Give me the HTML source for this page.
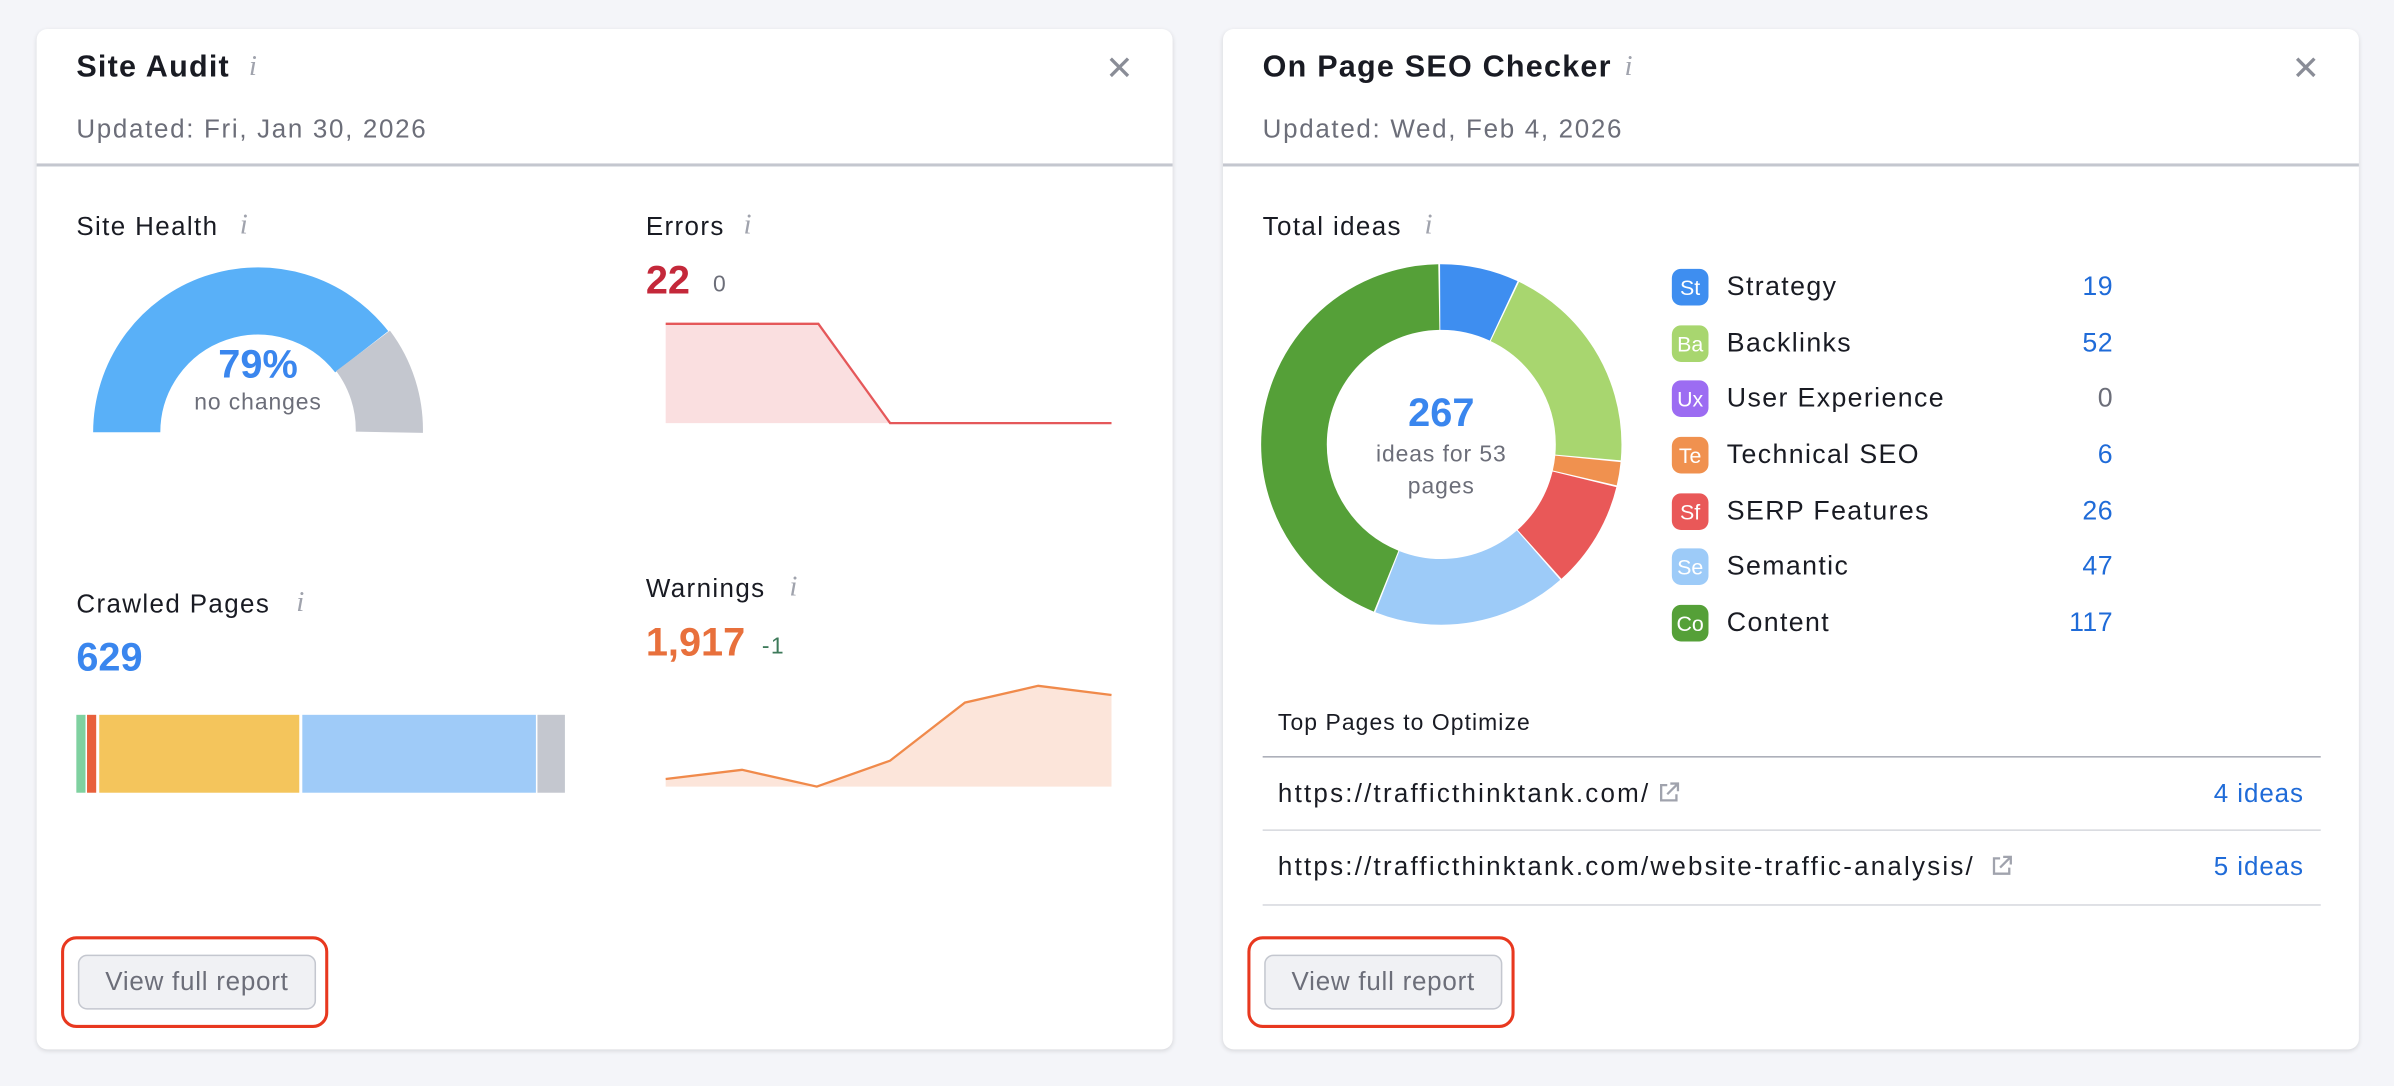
<!DOCTYPE html>
<html><head><meta charset="utf-8"><style>
html,body{margin:0;padding:0;width:2394px;height:1086px;overflow:hidden;background:#f4f5f9;font-family:"Liberation Sans",Arial,sans-serif;}
#w{position:absolute;left:0;top:0;width:1568px;height:711px;transform:scale(1.5268,1.5274);transform-origin:0 0;letter-spacing:0.9px;}
.card{position:absolute;top:19px;width:744px;height:668px;background:#fff;border-radius:7px;box-shadow:0 1px 3px rgba(0,0,0,.12);}
.t{position:absolute;white-space:nowrap;}
.title{font-size:20px;font-weight:bold;color:#191b23;letter-spacing:0.8px;}
.info{font-family:"Liberation Serif",serif;font-style:italic;color:#a0a3ad;font-size:19px;}
.upd{font-size:17px;color:#6c6e79;letter-spacing:1.1px;}
.sep{position:absolute;left:0;right:0;top:88px;height:1.5px;background:#c4c7cf;}
.lbl{font-size:17px;color:#191b23;}
.big{font-size:26px;font-weight:bold;letter-spacing:0;}
.btn{position:absolute;top:606px;width:154px;height:34px;border:1px solid #c4c7cf;background:#f0f1f4;border-radius:6px;font-size:17px;color:#6c6e79;text-align:center;line-height:34px;letter-spacing:0.5px;}
.hl{position:absolute;top:594px;width:171px;height:56px;border:2.5px solid #e8381f;border-radius:10px;}
.x{font-size:22px;color:#8a8d97;}
.bd{position:absolute;left:294px;width:24px;height:24px;border-radius:6px;color:#fff;font-size:14px;text-align:center;line-height:24px;letter-spacing:0;}
.lg{position:absolute;left:330px;font-size:17.5px;color:#191b23;}
.num{position:absolute;right:161px;font-size:17.5px;color:#1f6bd8;text-align:right;letter-spacing:0.3px;}
.hr{position:absolute;left:26px;width:693px;height:1px;background:#d6d8de;}
.url{font-size:17px;color:#191b23;letter-spacing:1.45px;}
.ideas{font-size:17px;color:#1f6bd8;letter-spacing:0.6px;}
</style></head><body><div id="w">

<div class="card" style="left:24px;">
  <div class="t title" style="left:26px;top:14px;">Site Audit</div>
  <div class="t info" style="left:139px;top:14px;">i</div>
  <div class="t x" style="left:700px;top:13px;">✕</div>
  <div class="t upd" style="left:26px;top:56px;">Updated: Fri, Jan 30, 2026</div>
  <div class="sep"></div>

  <div class="t lbl" style="left:26px;top:120px;">Site Health</div>
  <div class="t info" style="left:133px;top:118px;">i</div>
  <svg style="position:absolute;left:0;top:0" width="744" height="668">
    <path d="M 59 264 A 86 86 0 0 1 212.9 211.3" fill="none" stroke="#59b0f8" stroke-width="44"/>
    <path d="M 213.8 210.7 A 86 86 0 0 1 231 264" fill="none" stroke="#c4c7cf" stroke-width="44"/>
    <path d="M412 193 L512 193 L559 258 L704 258 L704 258 L412 258 Z" fill="#fadfe0"/>
    <polyline points="412,193 512,193 559,258 704,258" fill="none" stroke="#e5585a" stroke-width="1.5"/>
    <path d="M412 491 L462 485 L511 496 L559 479 L608 441 L656 430 L704 436 L704 496 L412 496 Z" fill="#fce5da"/>
    <polyline points="412,491 462,485 511,496 559,479 608,441 656,430 704,436" fill="none" stroke="#f08a4b" stroke-width="1.5"/>
    <rect x="26" y="449" width="6" height="51" fill="#7fd1a0"/>
    <rect x="33" y="449" width="6" height="51" fill="#e8603c"/>
    <rect x="41" y="449" width="131" height="51" fill="#f4c55c"/>
    <rect x="174" y="449" width="153" height="51" fill="#9fcbf8"/>
    <rect x="328" y="449" width="18" height="51" fill="#c4c7cf"/>
  </svg>
  <div class="t big" style="left:117px;top:204px;color:#3a86ee;width:56px;text-align:center;">79%</div>
  <div class="t" style="left:90px;top:236px;font-size:15px;color:#6c6e79;width:110px;text-align:center;letter-spacing:0.6px;">no changes</div>

  <div class="t lbl" style="left:399px;top:120px;">Errors</div>
  <div class="t info" style="left:463px;top:118px;">i</div>
  <div class="t big" style="left:399px;top:149px;color:#c4283a;">22</div>
  <div class="t" style="left:443px;top:159px;font-size:15px;color:#6c6e79;">0</div>

  <div class="t lbl" style="left:26px;top:367px;">Crawled Pages</div>
  <div class="t info" style="left:170px;top:365px;">i</div>
  <div class="t big" style="left:26px;top:396px;color:#3a86ee;">629</div>

  <div class="t lbl" style="left:399px;top:357px;">Warnings</div>
  <div class="t info" style="left:493px;top:355px;">i</div>
  <div class="t big" style="left:399px;top:386px;color:#e8703c;">1,917</div>
  <div class="t" style="left:475px;top:396px;font-size:15px;color:#3d7a5a;">-1</div>

  <div class="hl" style="left:16px;"></div>
  <div class="btn" style="left:27px;">View full report</div>
</div>

<div class="card" style="left:801px;">
  <div class="t title" style="left:26px;top:14px;">On Page SEO Checker</div>
  <div class="t info" style="left:263px;top:14px;">i</div>
  <div class="t x" style="left:700px;top:13px;">✕</div>
  <div class="t upd" style="left:26px;top:56px;">Updated: Wed, Feb 4, 2026</div>
  <div class="sep"></div>

  <div class="t lbl" style="left:26px;top:120px;">Total ideas</div>
  <div class="t info" style="left:132px;top:118px;">i</div>
  <svg style="position:absolute;left:0;top:0" width="744" height="668">
    <g transform="rotate(-90 143 272)" fill="none" stroke-width="43">
      <circle cx="143" cy="272" r="96.5" pathLength="267" stroke="#3e8ef0" stroke-dasharray="18.6 248.4" stroke-dashoffset="0"/>
      <circle cx="143" cy="272" r="96.5" pathLength="267" stroke="#a8d66f" stroke-dasharray="51.6 215.4" stroke-dashoffset="-19"/>
      <circle cx="143" cy="272" r="96.5" pathLength="267" stroke="#f0914f" stroke-dasharray="5.6 261.4" stroke-dashoffset="-71"/>
      <circle cx="143" cy="272" r="96.5" pathLength="267" stroke="#e95858" stroke-dasharray="25.6 241.4" stroke-dashoffset="-77"/>
      <circle cx="143" cy="272" r="96.5" pathLength="267" stroke="#9dcbf8" stroke-dasharray="46.6 220.4" stroke-dashoffset="-103"/>
      <circle cx="143" cy="272" r="96.5" pathLength="267" stroke="#55a038" stroke-dasharray="116.6 150.4" stroke-dashoffset="-150"/>
    </g>
    <svg x="284" y="492" width="16" height="16" viewBox="0 0 16 16"><path d="M7 3H3v10h10V9M9 2h5v5M14 2L7 9" fill="none" stroke="#a0a3ad" stroke-width="1.5"/></svg>
    <svg x="502" y="540" width="16" height="16" viewBox="0 0 16 16"><path d="M7 3H3v10h10V9M9 2h5v5M14 2L7 9" fill="none" stroke="#a0a3ad" stroke-width="1.5"/></svg>
  </svg>
  <div class="t big" style="left:103px;top:236px;color:#3a86ee;width:80px;text-align:center;">267</div>
  <div class="t" style="left:78px;top:268px;font-size:15px;color:#6c6e79;width:130px;text-align:center;line-height:21px;white-space:normal;letter-spacing:0.6px;">ideas for 53<br>pages</div>

  <div class="bd" style="top:157px;background:#3e8ef0;">St</div><div class="t lg" style="top:158px;">Strategy</div><div class="t num" style="top:158px;">19</div>
  <div class="bd" style="top:194px;background:#a8d66f;">Ba</div><div class="t lg" style="top:195px;">Backlinks</div><div class="t num" style="top:195px;">52</div>
  <div class="bd" style="top:230px;background:#9c6cf2;">Ux</div><div class="t lg" style="top:231px;">User Experience</div><div class="t num" style="top:231px;color:#6c6e79;">0</div>
  <div class="bd" style="top:267px;background:#f0914f;">Te</div><div class="t lg" style="top:268px;">Technical SEO</div><div class="t num" style="top:268px;">6</div>
  <div class="bd" style="top:304px;background:#e95858;">Sf</div><div class="t lg" style="top:305px;">SERP Features</div><div class="t num" style="top:305px;">26</div>
  <div class="bd" style="top:340px;background:#9dcbf8;">Se</div><div class="t lg" style="top:341px;">Semantic</div><div class="t num" style="top:341px;">47</div>
  <div class="bd" style="top:377px;background:#55a038;">Co</div><div class="t lg" style="top:378px;">Content</div><div class="t num" style="top:378px;">117</div>

  <div class="t" style="left:36px;top:446px;font-size:15px;color:#191b23;letter-spacing:0.7px;">Top Pages to Optimize</div>
  <div class="hr" style="top:476px;background:#a8abb5;"></div>
  <div class="t url" style="left:36px;top:491px;">https://trafficthinktank.com/</div>
  <div class="t ideas" style="right:36px;top:491px;">4 ideas</div>
  <div class="hr" style="top:524px;"></div>
  <div class="t url" style="left:36px;top:539px;">https://trafficthinktank.com/website-traffic-analysis/</div>
  <div class="t ideas" style="right:36px;top:539px;">5 ideas</div>
  <div class="hr" style="top:573px;"></div>

  <div class="hl" style="left:16px;"></div>
  <div class="btn" style="left:27px;">View full report</div>
</div>

</div></body></html>
